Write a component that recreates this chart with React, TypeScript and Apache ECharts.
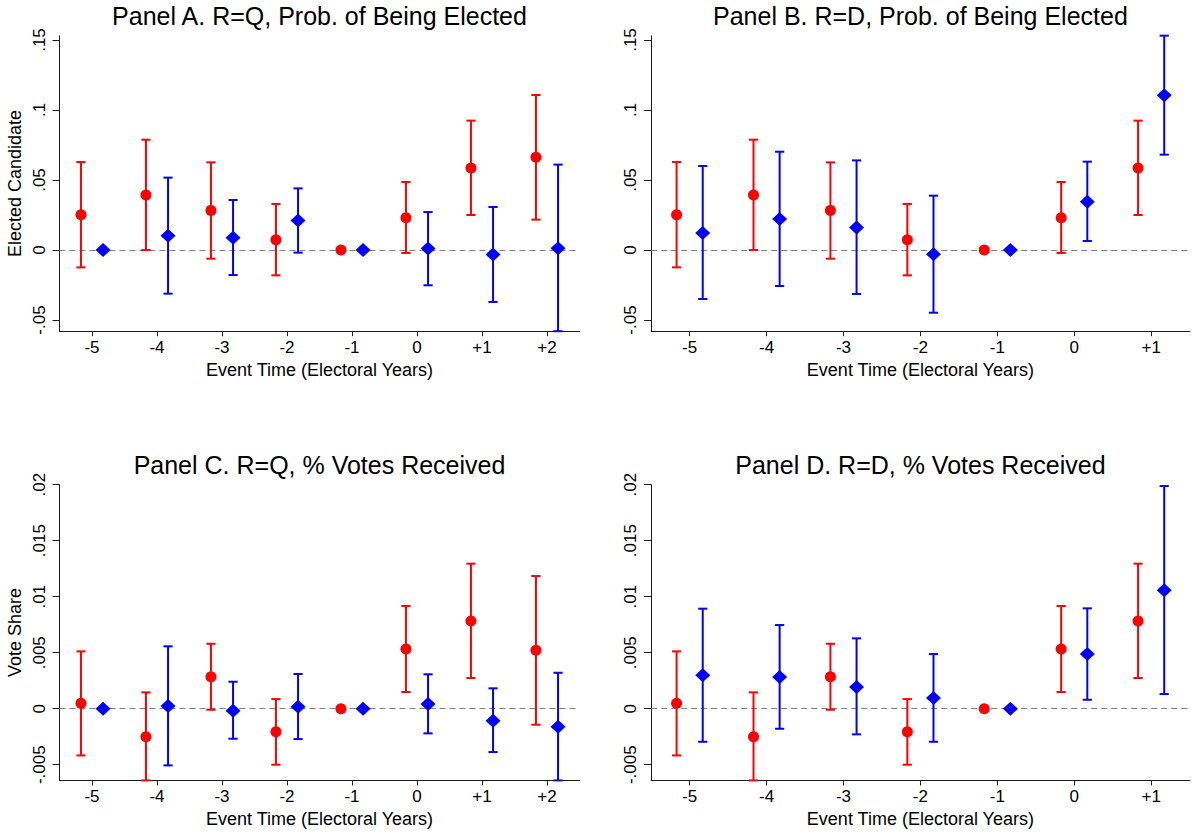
import React, { useEffect, useRef } from "react";
import * as echarts from "echarts";

// ---- Data ----
const eventTimes = [-5, -4, -3, -2, -1, 0, 1, 2];
const xTickLabels = ["-5", "-4", "-3", "-2", "-1", "0", "+1", "+2"];

const electTicks = [-0.05, 0, 0.05, 0.1, 0.15];
const electTickLabels = ["-.05", "0", ".05", ".1", ".15"];
const voteTicks = [-0.005, 0, 0.005, 0.01, 0.015, 0.02];
const voteTickLabels = ["-.005", "0", ".005", ".01", ".015", ".02"];

// Probability of being elected — red (circles)
const redElectEst = [0.0252, 0.0393, 0.0283, 0.0074, 0, 0.0231, 0.0586, 0.0662];
const redElectLo = [-0.0124, 0.0, -0.0062, -0.0181, null, -0.0021, 0.025, 0.0217];
const redElectHi = [0.0629, 0.0788, 0.0626, 0.0329, null, 0.0486, 0.0924, 0.1107];

// Panel A blue (R=Q)
const blueElectQEst = [0, 0.0102, 0.0088, 0.021, 0, 0.001, -0.0033, 0.0012];
const blueElectQLo = [null, -0.0312, -0.0179, -0.0019, null, -0.0252, -0.0371, -0.058];
const blueElectQHi = [null, 0.0517, 0.0357, 0.044, null, 0.0271, 0.0307, 0.061];

// Panel B blue (R=D)
const blueElectDEst = [0.0121, 0.0221, 0.016, -0.0031, 0, 0.0345, 0.1105];
const blueElectDLo = [-0.035, -0.0257, -0.0314, -0.0448, null, 0.0064, 0.0681];
const blueElectDHi = [0.06, 0.0702, 0.064, 0.0388, null, 0.0631, 0.1531];

// Votes received — red (circles)
const redVoteEst = [0.00048, -0.0025, 0.00286, -0.00205, 0, 0.00533, 0.00783, 0.00521];
const redVoteLo = [-0.00417, -0.0064, -0.00009, -0.005, null, 0.00149, 0.00274, -0.00143];
const redVoteHi = [0.00512, 0.00146, 0.0058, 0.00086, null, 0.00917, 0.01295, 0.01185];

// Panel C blue (R=Q)
const blueVoteQEst = [0, 0.00024, -0.00018, 0.00018, 0, 0.00042, -0.00107, -0.00161];
const blueVoteQLo = [null, -0.00506, -0.00268, -0.00271, null, -0.0022, -0.00387, -0.0064];
const blueVoteQHi = [null, 0.00557, 0.00241, 0.0031, null, 0.00307, 0.00182, 0.00321];

// Panel D blue (R=D)
const blueVoteDEst = [0.00298, 0.00283, 0.00193, 0.00095, 0, 0.00488, 0.01057];
const blueVoteDLo = [-0.00295, -0.00179, -0.00229, -0.00295, null, 0.0008, 0.00131];
const blueVoteDHi = [0.00893, 0.00747, 0.00628, 0.00488, null, 0.00896, 0.01988];

const panelTitles = [
  "Panel A. R=Q, Prob. of Being Elected",
  "Panel B. R=D, Prob. of Being Elected",
  "Panel C. R=Q, % Votes Received",
  "Panel D. R=D, % Votes Received",
];
const xAxisTitle = "Event Time (Electoral Years)";
const yTitleElect = "Elected Candidate";
const yTitleVote = "Vote Share";

// ---- Styling / layout ----
const FONT = '"Liberation Sans", Arial, sans-serif';
const RED = "#ff0000";
const BLUE = "#0000ff";
const AXIS = "#1a1a1a";
const OFFSET = 0.17;

const grids = [
  { left: 59.5, top: 35.8, width: 520, height: 295.4 },
  { left: 651.2, top: 35.8, width: 538.4, height: 295.4 },
  { left: 59.5, top: 484.7, width: 520, height: 295.7 },
  { left: 651.2, top: 484.7, width: 538.4, height: 295.7 },
];

function labelOf(ticks: number[], labels: string[]) {
  return (v: number) => {
    const i = ticks.findIndex((t) => Math.abs(t - v) < 1e-9);
    return i >= 0 ? labels[i] : "";
  };
}

function makeXAxis(gridIndex: number, n: number) {
  const ticks = eventTimes.slice(0, n);
  const labels = xTickLabels.slice(0, n);
  return {
    type: "value",
    gridIndex,
    min: -5.5,
    max: ticks[ticks.length - 1] + 0.5,
    axisLine: { show: true, onZero: false, lineStyle: { color: AXIS, width: 1 } },
    axisTick: { show: true, customValues: ticks, length: 5, lineStyle: { color: AXIS, width: 1 } },
    axisLabel: {
      show: true,
      customValues: ticks,
      formatter: labelOf(ticks, labels),
      fontSize: 17,
      fontFamily: FONT,
      color: "#000",
      margin: 8,
    },
    splitLine: { show: false },
    name: xAxisTitle,
    nameLocation: "middle",
    nameGap: 30,
    nameTextStyle: { fontSize: 18, fontFamily: FONT, color: "#000" },
  };
}

function makeYAxis(gridIndex: number, elect: boolean, title: string | null) {
  const ticks = elect ? electTicks : voteTicks;
  const labels = elect ? electTickLabels : voteTickLabels;
  return {
    type: "value",
    gridIndex,
    min: elect ? -0.058 : -0.0064,
    max: elect ? 0.153 : 0.02,
    axisLine: { show: true, onZero: false, lineStyle: { color: AXIS, width: 1 } },
    axisTick: { show: true, customValues: ticks, length: 7, lineStyle: { color: AXIS, width: 1 } },
    axisLabel: {
      show: true,
      customValues: ticks,
      formatter: labelOf(ticks, labels),
      rotate: 90,
      fontSize: 17,
      fontFamily: FONT,
      color: "#000",
      margin: 12,
    },
    splitLine: { show: false },
    name: title || "",
    nameLocation: "middle",
    nameRotate: 90,
    nameGap: 36,
    nameTextStyle: { fontSize: 18, fontFamily: FONT, color: "#000" },
  };
}

function barSeries(axisIndex: number, color: string, offset: number, lo: (number | null)[], hi: (number | null)[], withZeroLine: boolean) {
  const data: number[][] = [];
  lo.forEach((l, i) => {
    const h = hi[i];
    if (l !== null && h !== null) data.push([eventTimes[i] + offset, l, h]);
  });
  const s: any = {
    type: "custom",
    xAxisIndex: axisIndex,
    yAxisIndex: axisIndex,
    data,
    encode: { x: 0, y: [1, 2] },
    z: 2,
    silent: true,
    renderItem: (params: any, api: any) => {
      const x = api.value(0);
      const pLo = api.coord([x, api.value(1)]);
      const pHi = api.coord([x, api.value(2)]);
      const half = 4.6;
      const style = { stroke: color, lineWidth: 2, fill: "none" };
      return {
        type: "group",
        children: [
          { type: "line", shape: { x1: pLo[0], y1: pLo[1], x2: pHi[0], y2: pHi[1] }, style },
          { type: "line", shape: { x1: pLo[0] - half, y1: pLo[1], x2: pLo[0] + half, y2: pLo[1] }, style },
          { type: "line", shape: { x1: pHi[0] - half, y1: pHi[1], x2: pHi[0] + half, y2: pHi[1] }, style },
        ],
      };
    },
  };
  if (withZeroLine) {
    s.markLine = {
      silent: true,
      symbol: "none",
      label: { show: false },
      lineStyle: { color: "#7f7f7f", width: 1, type: [6, 4] },
      data: [{ yAxis: 0 }],
      z: 1,
    };
  }
  return s;
}

function pointSeries(axisIndex: number, color: string, offset: number, est: number[], symbol: string, size: number | number[]) {
  return {
    type: "scatter",
    xAxisIndex: axisIndex,
    yAxisIndex: axisIndex,
    data: est.map((v, i) => [eventTimes[i] + offset, v]),
    symbol,
    symbolSize: size,
    itemStyle: { color, opacity: 1 },
    z: 3,
    silent: true,
  };
}

function panelSeries(idx: number, rEst: number[], rLo: (number | null)[], rHi: (number | null)[], bEst: number[], bLo: (number | null)[], bHi: (number | null)[]) {
  const n = bEst.length;
  return [
    barSeries(idx, RED, -OFFSET, rLo.slice(0, n), rHi.slice(0, n), true),
    barSeries(idx, BLUE, OFFSET, bLo, bHi, false),
    pointSeries(idx, RED, -OFFSET, rEst.slice(0, n), "circle", 11),
    pointSeries(idx, BLUE, OFFSET, bEst, "diamond", [15, 14]),
  ];
}

export default function App() {
  const ref = useRef<HTMLDivElement>(null);
  useEffect(() => {
    if (!ref.current) return;
    const chart = echarts.init(ref.current, null, { renderer: "svg" });
    const titleGraphics = panelTitles.map((t, i) => {
      const g = grids[i];
      return {
        type: "text",
        x: g.left + g.width / 2,
        y: g.top - 19.5,
        style: {
          text: t,
          fill: "#000",
          font: `25px ${FONT}`,
          align: "center",
          verticalAlign: "middle",
        },
        silent: true,
      };
    });
    chart.setOption({
      animation: false,
      backgroundColor: "#ffffff",
      grid: grids.map((g) => ({ ...g, containLabel: false })),
      xAxis: [makeXAxis(0, 8), makeXAxis(1, 7), makeXAxis(2, 8), makeXAxis(3, 7)],
      yAxis: [
        makeYAxis(0, true, yTitleElect),
        makeYAxis(1, true, null),
        makeYAxis(2, false, yTitleVote),
        makeYAxis(3, false, null),
      ],
      graphic: titleGraphics,
      series: [
        ...panelSeries(0, redElectEst, redElectLo, redElectHi, blueElectQEst, blueElectQLo, blueElectQHi),
        ...panelSeries(1, redElectEst, redElectLo, redElectHi, blueElectDEst, blueElectDLo, blueElectDHi),
        ...panelSeries(2, redVoteEst, redVoteLo, redVoteHi, blueVoteQEst, blueVoteQLo, blueVoteQHi),
        ...panelSeries(3, redVoteEst, redVoteLo, redVoteHi, blueVoteDEst, blueVoteDLo, blueVoteDHi),
      ],
    });
    return () => chart.dispose();
  }, []);
  return (
    <div
      ref={ref}
      style={{ position: "absolute", left: 0, top: 0, width: 1192, height: 834, background: "#fff" }}
    />
  );
}
